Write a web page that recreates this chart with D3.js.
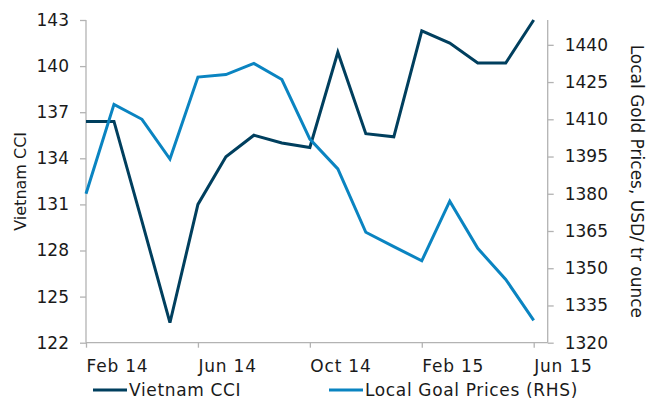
<!DOCTYPE html>
<html>
<head>
<meta charset="utf-8">
<script src="https://cdn.jsdelivr.net/npm/d3@7"></script>
<style>
  html, body { margin: 0; padding: 0; background: #fff; }
  svg { display: block; font-family: "DejaVu Sans", Verdana, sans-serif; }
</style>
</head>
<body>
<svg id="chart" width="647" height="401"></svg>
<script>
const months = ["Feb 14","Mar 14","Apr 14","May 14","Jun 14","Jul 14","Aug 14","Sep 14","Oct 14","Nov 14","Dec 14","Jan 15","Feb 15","Mar 15","Apr 15","May 15","Jun 15"];
const cci  = [136.4,136.4,129.9,123.3,131.0,134.1,135.5,135.0,134.7,140.9,135.6,135.4,142.3,141.5,140.2,140.2,143.0];
const gold = [1380,1416,1410,1394,1427,1428,1432.5,1426,1402,1390,1364.5,1358.7,1353,1377,1358,1345.5,1329];
const xTickMonths = ["Feb 14","Jun 14","Oct 14","Feb 15","Jun 15"];
const leftTicks  = [122,125,128,131,134,137,140,143];
const rightTicks = [1320,1335,1350,1365,1380,1395,1410,1425,1440];
const seriesNames = ["Vietnam CCI","Local Goal Prices (RHS)"];

const colDark = "#003f5e", colLight = "#0a84c1", axisCol = "#b3b3b3";
const L = 86, R = 547.7, T = 20, B = 342.7;

const svg = d3.select("#chart");
const x = d3.scaleLinear().domain([0, 16.5]).range([L, R]);
const yL = d3.scaleLinear().domain([122, 143]).range([B, T]);
const yR = d3.scaleLinear().domain([1320, 1450]).range([B, T]);

const fs = 17;
// Left axis
const gL = svg.append("g").attr("transform", `translate(${L},0)`)
  .call(d3.axisLeft(yL).tickValues(leftTicks).tickSize(6).tickPadding(11).tickFormat(d3.format("d")));
// Right axis
const gR = svg.append("g").attr("transform", `translate(${R},0)`)
  .call(d3.axisRight(yR).tickValues(rightTicks).tickSize(6).tickPadding(11).tickFormat(d3.format("d")));
// Bottom axis
const gB = svg.append("g").attr("transform", `translate(0,${B})`)
  .call(d3.axisBottom(x).tickValues(xTickMonths.map(m => months.indexOf(m)))
    .tickSize(5).tickPadding(12).tickFormat(i => months[i]));

[gL, gR, gB].forEach(g => {
  g.select(".domain").attr("stroke", axisCol).attr("stroke-width", 1.3);
  g.selectAll(".tick line").attr("stroke", axisCol).attr("stroke-width", 1.3);
  g.selectAll("text").attr("fill", "#1a1a1a").style("font-size", fs + "px").style("font-family", "DejaVu Sans, Verdana, sans-serif");
});
gB.selectAll("text").attr("text-anchor", "start").attr("dx", "0").style("letter-spacing", "0.8px");
gL.select(".domain").attr("d", `M0,${T}V${B}`);
gR.select(".domain").attr("d", `M0,${T}V${B}`);
gB.select(".domain").attr("d", `M${L},0H${R}`);

// Lines
const lineL = d3.line().x((d, i) => x(i)).y(d => yL(d));
const lineR = d3.line().x((d, i) => x(i)).y(d => yR(d));
svg.append("path").datum(cci).attr("d", lineL).attr("fill", "none")
  .attr("stroke", colDark).attr("stroke-width", 3).attr("stroke-linejoin", "miter");
svg.append("path").datum(gold).attr("d", lineR).attr("fill", "none")
  .attr("stroke", colLight).attr("stroke-width", 3).attr("stroke-linejoin", "miter");

// Axis titles
svg.append("text").attr("transform", `translate(26,${(T + B) / 2}) rotate(-90)`)
  .attr("text-anchor", "middle").style("font-size", "16px").attr("fill", "#1a1a1a").text("Vietnam CCI");
svg.append("text").attr("transform", `translate(631,${(T + B) / 2}) rotate(90)`)
  .attr("text-anchor", "middle").style("font-size", "17px").attr("fill", "#1a1a1a").text("Local Gold Prices, USD/ tr ounce");

// Legend
const leg = [{x0: 93, x1: 127, tx: 129, c: colDark, t: seriesNames[0]},
             {x0: 329, x1: 363, tx: 365, c: colLight, t: seriesNames[1]}];
leg.forEach(l => {
  svg.append("line").attr("x1", l.x0).attr("x2", l.x1).attr("y1", 390).attr("y2", 390)
    .attr("stroke", l.c).attr("stroke-width", 3);
  svg.append("text").attr("x", l.tx).attr("y", 396).style("font-size", "17px")
    .style("letter-spacing", "0.65px").attr("fill", "#1a1a1a").text(l.t);
});
</script>
</body>
</html>
